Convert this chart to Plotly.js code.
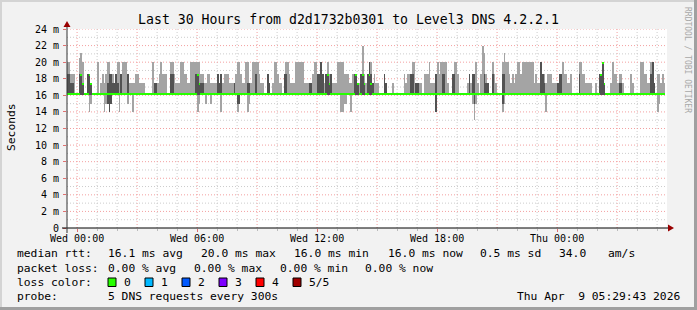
<!DOCTYPE html>
<html>
<head>
<meta charset="utf-8">
<script src="https://cdn.plot.ly/plotly-3.0.1.min.js"></script>
<style>html,body{margin:0;padding:0;background:#f2f2f2;}#chart{width:697px;height:310px;}</style>
</head>
<body>
<div id="chart"></div>
<script>
// ---- data: one value per 5-minute step (360 steps over 30 hours), in ms ----
// top of smoke (highest ping)
const smokeMax = [
 20,20,18.6,18.6,18.6,16,16,20.5,21.1,20,
 16,16,18.6,18.6,17.5,16,16,16,20,16,
 17.5,18.6,17.5,18.6,20,20,18.6,18.6,17.5,18.6,
 20,20,18.6,20,20,20,18.6,17.5,17.5,17.5,
 17.5,18.6,18.6,17.5,17.5,17.5,17.5,16,16,16,
 16,20,17.5,17.5,17.5,18.6,20,18.6,18.6,18.6,
 16,16,20,20,18.6,17.5,17.5,17.5,20,20,
 18.6,18.6,17.5,17.5,20,20,20,20,20,20,
 18.6,18.6,17.5,17.5,18.6,18.6,17.5,17.5,17.5,17.5,
 18.6,17.5,18.6,17.5,18.6,18.6,18.6,17.5,17.5,17.5,
 17.5,18.6,20,20,18.6,17.5,17.5,20,20,17.5,
 17.5,20,20,20,20,18.6,17.5,17.5,16,16,
 18.6,17.5,16,17.5,20,20,18.6,17.5,17.5,16,
 18.6,20,20,18.6,17.5,17.5,17.5,20,20,20,
 20,20,17.5,17.5,17.5,17.5,17.5,18.6,20,20,
 18.6,18.6,20,18.6,17.5,18.6,20,18.6,18.6,17.5,
 17.5,17.5,20,20,20,20,18.6,18.6,18.6,17.5,
 17.5,18.6,18.6,18.6,17.5,17.5,18.6,22,18.6,17.5,
 18.6,20,20,17.5,18.6,17.5,17.5,16,16,16,
 18.6,17.5,16,16,16,17.5,16,16,16,16,
 16,16,18.6,17.5,18.6,18.6,18.6,20,20,17.5,
 17.5,17.5,17.5,16,18.6,18.6,18.6,20,17.5,17.5,
 17.5,18.6,20,18.6,20,20,20,20,17.5,16,
 16,18.6,20,20,18.6,16,16,16,16,16,
 17.5,18.6,17.5,18.6,18.6,20,17.5,16,18.6,22,
 21.1,18.6,17.5,16,16,20,18.6,17.5,16,16,
 16,20,21.1,20,20,18.6,17.5,18.6,17.5,18.6,
 20,20,18.6,20,20,20,20,20,20,20,
 17.5,18.6,17.5,17.5,20,18.6,18.6,17.5,18.6,18.6,
 18.6,17.5,17.5,17.5,17.5,18.6,18.6,20,18.6,18.6,
 17.5,17.5,18.6,16,16,16,16,20,20,18.6,
 18.6,17.5,17.5,17.5,17.5,16,16,17.5,16,18.6,
 18.6,20,17.5,16,16,16,17.5,20,18.6,18.6,
 17.5,18.6,18.6,17.5,16,16,16,16,18.6,17.5,
 16,16,16,16,20,20,18.6,18.6,17.5,17.5,
 20,20,17.5,16,18.6,18.6,17.5,18.6,17.5,null
];
// upper edge of the dark inner smoke (4th ping)
const smokeHigh = [
 18.6,18.6,17.5,17.5,16,16,16,18.6,18.6,17.5,
 16,16,18.6,18.6,17.5,16,16,16,16,16,
 16,16,16,16,17.5,18.6,18.6,17.5,17.5,18.6,
 17.5,16,18.6,16,16,16,18.6,16,16,16,
 16,16,16,16,16,16,16,16,16,16,
 16,16,17.5,17.5,16,16,16,16,16,16,
 16,16,18.6,18.6,16,16,16,16,16,16,
 16,16,16,16,16,16,16,18.6,18.6,17.5,
 17.5,17.5,16,16,16,16,16,16,16,16,
 18.6,17.5,18.6,16,16,16,16,16,16,16,
 17.5,16,16,16,16,16,16,16,17.5,17.5,
 16,16,16,18.6,16,16,16,16,16,16,
 18.6,17.5,16,16,16,16,16,16,16,16,
 18.6,18.6,16,16,16,16,16,16,16,16,
 16,16,16,16,16,17.5,17.5,16,16,16,
 18.6,18.6,20,18.6,16,18.6,18.6,17.5,18.6,16,
 16,16,16,16,16,16,16,16,16,16,
 16,16,18.6,18.6,17.5,16,18.6,18.6,17.5,16,
 18.6,20,18.6,17.5,16,16,16,16,16,16,
 18.6,17.5,16,16,16,16,16,16,16,16,
 16,16,16,16,16,16,18.6,18.6,16,17.5,
 17.5,16,16,16,16,16,16,16,16,16,
 16,18.6,16,16,16,18.6,18.6,16,16,16,
 16,18.6,18.6,16,16,16,16,16,16,16,
 16,18.6,16,18.6,18.6,16,16,16,16,16,
 18.6,17.5,17.5,16,16,18.6,16,16,16,16,
 16,18.6,18.6,16,16,16,16,16,16,16,
 16,16,16,16,16,16,16,16,16,16,
 16,16,16,16,20,18.6,17.5,16,16,16,
 16,16,16,16,17.5,18.6,18.6,16,16,16,
 16,16,16,16,16,16,16,18.6,16,16,
 16,16,16,16,16,16,16,16,16,18.6,
 18.6,20,17.5,16,16,16,16,16,16,16,
 16,17.5,17.5,16,16,16,16,16,16,16,
 16,16,16,16,16,16,16,16,16,16,
 18.6,20,17.5,16,16,16,16,16,16,null
];
// median ping
const medianRtt = [
 16,16,16,16,16,16,16,16,18.35,17.25,
 16,16,16,18.35,17.25,16,16,16,16,16,
 16,16,16,16,16,16,16,16,16,16,
 16,16,16,16,16,16,16,16,16,16,
 16,16,16,16,16,16,16,16,16,16,
 16,16,16,16,16,16,16,16,16,16,
 16,16,16,16,16,16,16,16,16,16,
 16,16,16,16,16,16,16,16,18.35,17.25,
 16,16,16,16,16,16,16,16,16,16,
 16,16,16,16,16,16,16,16,16,16,
 16,16,16,16,16,16,16,16,16,16,
 16,16,16,16,16,16,16,16,16,16,
 16,16,16,16,16,16,16,16,16,16,
 16,16,16,16,16,16,16,16,16,16,
 16,16,16,16,16,16,16,16,16,16,
 16,16,16,16,16,16,18.35,17.25,16,16,
 16,16,16,16,16,16,16,16,16,16,
 16,16,16,18.35,17.25,16,16,18.35,17.25,16,
 16,18.35,17.25,16,16,16,16,16,16,16,
 16,16,16,16,16,16,16,16,16,16,
 16,16,16,16,16,16,16,16,16,16,
 16,16,16,16,16,16,16,16,16,16,
 16,16,16,16,16,16,16,16,16,16,
 16,16,16,16,16,16,16,16,16,16,
 16,16,16,16,16,16,16,16,16,16,
 16,16,16,16,16,16,16,16,16,16,
 16,16,16,16,16,16,16,16,16,16,
 16,16,16,16,16,16,16,16,16,16,
 16,16,16,16,16,16,16,16,16,16,
 16,16,16,16,16,16,16,16,16,16,
 16,16,16,16,16,16,16,16,16,16,
 16,16,16,16,16,16,16,16,16,16,
 18.35,19.75,17.25,16,16,16,16,16,16,16,
 16,16,16,16,16,16,16,16,16,16,
 16,16,16,16,16,16,16,16,16,16,
 16,16,16,16,16,16,16,16,16,null
];
// lower edge of the dark inner smoke (2nd ping)
const smokeLow = [
 16,16,16,16,16,16,16,16,16,16,
 16,16,16,16,16,16,16,16,16,16,
 16,16,16,16,15,14,15,16,16,16,
 16,16,16,16,16,16,16,16,16,16,
 16,16,16,16,16,16,16,16,16,16,
 16,16,16,16,16,16,16,16,16,16,
 16,16,16,16,16,16,16,16,16,16,
 16,16,16,16,16,16,16,16,16,16,
 16,16,16,16,16,16,16,16,16,16,
 16,16,16,16,16,16,16,16,16,16,
 16,16,15,15,16,16,16,16,16,16,
 16,16,16,16,16,16,16,16,16,16,
 16,16,16,16,16,16,16,16,16,16,
 16,16,16,16,16,16,16,16,16,16,
 16,16,16,16,16,16,16,16,16,16,
 16,16,16,16,16,16,16,16,16,16,
 16,16,16,16,16,16,16,16,16,16,
 16,16,16,16,16,16,16,16,16,16,
 16,16,16,16,16,16,16,16,16,16,
 16,16,16,16,16,16,16,16,16,16,
 16,16,16,16,16,16,16,16,16,16,
 16,16,16,16,16,16,16,16,16,16,
 16,14,16,16,16,16,16,16,16,16,
 16,16,16,16,16,16,16,16,16,16,
 16,16,16,16,15,16,16,16,16,16,
 16,16,16,16,16,16,16,16,16,16,
 16,15,16,16,16,16,16,16,16,16,
 16,16,16,16,16,16,16,16,16,16,
 16,16,16,16,16,16,16,16,16,16,
 16,16,16,16,16,16,16,16,16,16,
 16,16,16,16,16,16,16,16,16,16,
 16,16,16,16,16,16,16,16,16,16,
 16,16,16,16,16,16,16,16,16,16,
 16,16,16,16,16,16,16,16,16,16,
 16,16,16,16,16,16,16,16,16,16,
 16,16,16,16,16,16,16,16,16,null
];
// bottom of smoke (lowest ping)
const smokeMin = [
 16,16,16,16,16,16,16,16,16,16,
 16,16,16,14,15,16,16,16,16,16,
 16,16,14,15,15,14,15,16,16,16,
 16,14,16,16,16,16,15,16,16,14,
 16,16,16,16,16,16,16,16,16,16,
 16,16,16,16,16,16,16,16,16,16,
 16,16,16,16,16,16,16,16,16,16,
 16,16,16,16,16,16,16,16,14,15,
 16,16,16,15,16,16,15,16,16,16,
 16,16,14,16,16,16,16,16,16,16,
 16,16,14,15,16,16,16,16,14,15,
 16,16,16,16,16,16,16,16,16,16,
 16,16,16,16,16,16,16,16,16,16,
 16,16,16,16,16,16,16,16,16,16,
 16,16,16,16,16,16,16,16,16,16,
 16,16,16,16,16,16,16,16,16,16,
 16,16,16,16,14,14,15,15,16,16,
 14,16,16,16,16,16,16,16,16,16,
 16,16,16,16,16,16,16,16,16,16,
 16,16,16,16,16,16,16,16,16,16,
 16,16,16,16,16,16,16,16,16,16,
 16,16,16,16,16,16,16,16,16,16,
 16,14,16,16,16,16,16,16,16,16,
 16,16,16,16,16,16,16,16,16,16,
 16,16,16,15,13,15,16,16,16,16,
 16,16,16,16,16,16,16,16,16,16,
 16,14,15,16,16,16,16,16,16,16,
 16,16,16,16,16,16,16,16,16,16,
 16,16,16,16,16,16,16,14,16,16,
 16,16,16,16,16,16,16,16,16,16,
 16,16,16,16,16,16,16,16,16,16,
 16,16,16,16,16,16,16,16,16,16,
 16,16,16,16,16,16,16,16,16,16,
 16,16,16,16,16,16,16,16,16,16,
 16,16,16,16,16,16,16,16,16,16,
 16,16,16,16,14,15,16,16,16,null
];
const xTickLabels = ["Wed 00:00", "Wed 06:00", "Wed 12:00", "Wed 18:00", "Thu 00:00"];
const yTickValues = [0, 2, 4, 6, 8, 10, 12, 14, 16, 18, 20, 22, 24];
const yTickLabels = ["0", "2 m", "4 m", "6 m", "8 m", "10 m", "12 m", "14 m", "16 m", "18 m", "20 m", "22 m", "24 m"];
const lossLabels = ["0", "1", "2", "3", "4", "5/5"];
const lossColors = ["#26ff00", "#00b8ff", "#0059ff", "#7e00ff", "#ff0000", "#a00000"];

// ---- build ----
const HOUR = 3600000, STEP = 300000;
const T0 = Date.UTC(2026, 3, 7, 23, 29, 43);
const T1 = T0 + 30 * HOUR;
const WED0 = Date.UTC(2026, 3, 8, 0, 0, 0);
const xs = smokeMax.map((_, i) => T0 + (i + 0.5) * STEP);
const diff = (a, b) => a.map((v, i) => (v == null || b[i] == null) ? null : v - b[i]);

const FONT = "DejaVu Sans Mono, monospace";
const traces = [
  {type: "bar", x: xs, base: smokeMin, y: diff(smokeMax, smokeMin), width: STEP,
   marker: {color: "#a4a4a4", line: {width: 0}}, hoverinfo: "skip"},
  {type: "bar", x: xs, base: smokeLow, y: diff(smokeHigh, smokeLow), width: STEP,
   marker: {color: "#525252", line: {width: 0}}, hoverinfo: "skip"},
  {type: "bar", x: xs, base: medianRtt, y: medianRtt.map(v => v == null ? null : 0.25), width: STEP,
   marker: {color: "#26ff00", line: {width: 0}}, hoverinfo: "skip"}
];

const px = p => (p - 67) / 600;
const py = p => (228 - p) / 199;
const shapes = [];
// grid
for (let h = 0; h < 30; h++) {
  const t = WED0 + h * HOUR;
  shapes.push({type: "line", xref: "x", yref: "paper", x0: t, x1: t, y0: 0, y1: 1, layer: "below",
    line: {color: h % 3 === 0 ? "#f3a0a0" : "#cccccc", width: 1, dash: "1px,2px"}});
}
for (let v = 1; v <= 24; v++) {
  shapes.push({type: "line", xref: "paper", yref: "y", x0: 0, x1: 1, y0: v, y1: v, layer: "below",
    line: {color: v % 2 === 0 ? "#f3a0a0" : "#cccccc", width: 1, dash: "1px,2px"}});
}
// axes
shapes.push({type: "line", xref: "paper", yref: "paper", x0: px(62), x1: px(669), y0: 0, y1: 0, line: {color: "#000", width: 1}});
shapes.push({type: "line", xref: "paper", yref: "paper", x0: 0, x1: 0, y0: py(233), y1: py(25), line: {color: "#333", width: 1}});
shapes.push({type: "path", xref: "paper", yref: "paper", fillcolor: "#990000", line: {width: 0},
  path: `M${px(67)},${py(21)} L${px(63.5)},${py(27)} L${px(70.5)},${py(27)} Z`});
shapes.push({type: "path", xref: "paper", yref: "paper", fillcolor: "#990000", line: {width: 0},
  path: `M${px(674)},${py(228)} L${px(668)},${py(224.5)} L${px(668)},${py(231.5)} Z`});
// loss colour swatches
const swX = [108, 145, 182, 219, 256, 293];
lossColors.forEach((c, i) => {
  shapes.push({type: "rect", xref: "paper", yref: "paper", x0: px(swX[i]), x1: px(swX[i] + 8),
    y0: py(286.5), y1: py(278), fillcolor: c, line: {color: "#000", width: 1}});
});
// frame
shapes.push({type: "rect", xref: "paper", yref: "paper", x0: px(0), x1: px(697), y0: py(0), y1: py(2), fillcolor: "#d4d4d4", line: {width: 0}});
shapes.push({type: "rect", xref: "paper", yref: "paper", x0: px(0), x1: px(2), y0: py(0), y1: py(310), fillcolor: "#d4d4d4", line: {width: 0}});
shapes.push({type: "rect", xref: "paper", yref: "paper", x0: px(694), x1: px(697), y0: py(0), y1: py(310), fillcolor: "#a0a0a0", line: {width: 0}});
shapes.push({type: "rect", xref: "paper", yref: "paper", x0: px(0), x1: px(697), y0: py(307), y1: py(310), fillcolor: "#a0a0a0", line: {width: 0}});

const annotations = [];
function txt(x, y, text, opt) {
  annotations.push(Object.assign({xref: "paper", yref: "paper", x: px(x), y: py(y), text: text,
    showarrow: false, xanchor: "left", yanchor: "middle", borderpad: 0,
    font: {family: FONT, size: 11.3, color: "#000"}}, opt || {}));
}
txt(16, 254, "median rtt:"); txt(107, 254, "16.1 ms avg"); txt(200, 254, "20.0 ms max");
txt(293, 254, "16.0 ms min"); txt(387, 254, "16.0 ms now"); txt(479, 254, "0.5 ms sd");
txt(558, 254, "34.0"); txt(607, 254, "am/s");
txt(16, 268, "packet loss:"); txt(107, 268, "0.00 % avg"); txt(193, 268, "0.00 % max");
txt(279, 268, "0.00 % min"); txt(364, 268, "0.00 % now");
txt(16, 282, "loss color:");
const lbX = [123, 160, 197, 234, 271, 308];
lossLabels.forEach((l, i) => txt(lbX[i], 282, l));
txt(16, 296, "probe:"); txt(107, 296, "5 DNS requests every 300s");
txt(681, 296, "Thu Apr\u00a0\u00a09 05:29:43 2026", {xanchor: "right"});
txt(11, 127, "Seconds", {xanchor: "center", textangle: -90});
txt(688, 60, "RRDTOOL / TOBI OETIKER", {xanchor: "center", textangle: 90, font: {family: FONT, size: 8, color: "#a8a8a8"}});

const layout = {
  width: 697, height: 310,
  margin: {l: 67, r: 30, t: 29, b: 82, pad: 0},
  paper_bgcolor: "#f2f2f2", plot_bgcolor: "#ffffff",
  showlegend: false, barmode: "overlay", bargap: 0,
  title: {text: "Last 30 Hours from d2d1732b0301 to Level3 DNS 4.2.2.1",
    font: {family: FONT, size: 13.2, color: "#000"}, xref: "container", yref: "container",
    x: 0.5, xanchor: "center", y: 1 - 19 / 310, yanchor: "middle"},
  xaxis: {type: "date", range: [T0, T1], showgrid: false, zeroline: false, showline: false,
    tickvals: xTickLabels.map((_, i) => WED0 + i * 6 * HOUR), ticktext: xTickLabels,
    ticks: "outside", ticklen: 3, tickcolor: "#e07070", ticklabelstandoff: -2,
    minor: {tick0: WED0, dtick: HOUR, ticks: "outside", ticklen: 2, tickcolor: "#bbbbbb", showgrid: false},
    tickfont: {family: FONT, size: 10, color: "#000"}, fixedrange: true},
  yaxis: {range: [0, 24], showgrid: false, zeroline: false, showline: false,
    tickvals: yTickValues, ticktext: yTickLabels, ticks: "outside", ticklen: 3, tickcolor: "#e07070",
    ticklabelstandoff: 2,
    tickfont: {family: FONT, size: 10, color: "#000"}, fixedrange: true},
  shapes: shapes, annotations: annotations
};
Plotly.newPlot("chart", traces, layout, {staticPlot: true, displayModeBar: false});
</script>
</body>
</html>
